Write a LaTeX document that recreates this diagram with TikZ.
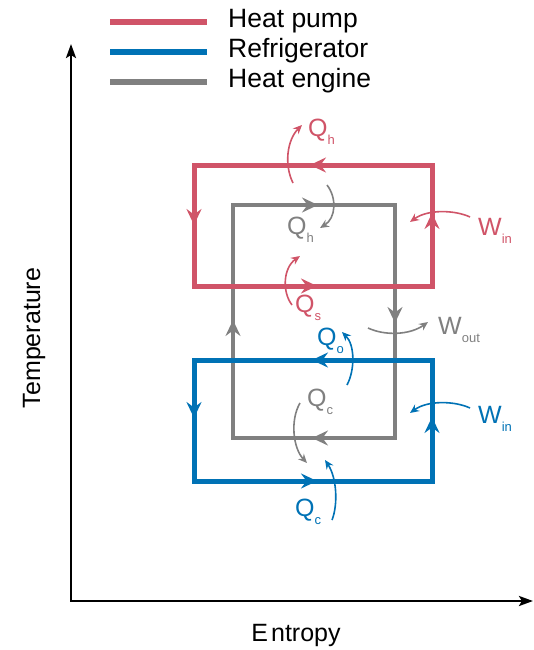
\documentclass[tikz,border=0pt]{standalone}
\usepackage{fontspec}
\setmainfont{Liberation Sans}
\usetikzlibrary{arrows.meta}
\definecolor{hpcol}{RGB}{208,84,104}
\definecolor{rfcol}{RGB}{0,114,181}
\definecolor{hecol}{RGB}{128,128,128}
\newcommand{\lsub}[1]{\raisebox{-8pt}{\fontsize{13}{13}\selectfont #1}}
\tikzset{
  axisline/.style={line width=2.6pt, black},
  boxline/.style={line width=#1, line join=miter},
  edgetip/.style={-{Stealth[length=16pt 0,width=15pt 0,inset=5.5pt 0]}},
  flow/.style={line width=1.6pt, -{Stealth[length=9pt,width=8pt,inset=3pt]}},
  lbl/.style={inner sep=0pt, anchor=base west, font=\fontsize{25}{25}\selectfont},
  legtext/.style={inner sep=0pt, anchor=base west, font=\fontsize{26.5}{26.5}\selectfont},
}
\begin{document}
\begin{tikzpicture}[x=1pt,y=-1pt]
\useasboundingbox (0,0) rectangle (534,650);
% axes
\coordinate (O) at (71,601);
\coordinate (ytip) at (71,44);
\coordinate (xtip) at (533,601);
\draw[axisline, {Stealth[length=14pt,width=10pt,inset=3pt]}-{Stealth[length=14pt,width=10pt,inset=3pt]}, line join=miter] (ytip) -- (O) -- (xtip);
\node[rotate=90, inner sep=0pt, font=\fontsize{25}{25}\selectfont] (tlab) at (34,338) {Temperature};
\node[inner sep=0pt, anchor=base, font=\fontsize{25}{25}\selectfont] (slab) at (296,641) {E\kern3pt ntropy};
% legend
\coordinate (l1a) at (110,22); \coordinate (l1b) at (207,22);
\coordinate (l2a) at (110,52); \coordinate (l2b) at (207,52);
\coordinate (l3a) at (110,82); \coordinate (l3b) at (207,82);
\draw[hpcol, line width=5.5pt] (l1a) -- (l1b);
\draw[rfcol, line width=5.5pt] (l2a) -- (l2b);
\draw[hecol, line width=5.5pt] (l3a) -- (l3b);
\node[legtext] (t1) at (228,28) {Heat pump};
\node[legtext] (t2) at (228,58) {Refrigerator};
\node[legtext] (t3) at (228,88) {Heat engine};
% heat engine (gray)
\draw[hecol, boxline=3.5pt] (233,205) rectangle (395,438);
\draw[hecol, boxline=3.5pt, edgetip] (300,205) -- (318,205);
\draw[hecol, boxline=3.5pt, edgetip] (395,305) -- (395,323);
\draw[hecol, boxline=3.5pt, edgetip] (233,338) -- (233,320);
\draw[hecol, boxline=3.5pt, edgetip] (330,438) -- (312,438);
% heat pump (red)
\draw[hpcol, boxline=5pt] (194,165) rectangle (432,286);
\draw[hpcol, boxline=5pt, edgetip] (328,165) -- (310,165);
\draw[hpcol, boxline=5pt, edgetip] (194,207) -- (194,225);
\draw[hpcol, boxline=5pt, edgetip] (299,286) -- (317,286);
\draw[hpcol, boxline=5pt, edgetip] (432,231) -- (432,213);
% refrigerator (blue)
\draw[rfcol, boxline=5pt] (194,360) rectangle (432,481);
\draw[rfcol, boxline=5pt, edgetip] (330,360) -- (312,360);
\draw[rfcol, boxline=5pt, edgetip] (194,400) -- (194,418);
\draw[rfcol, boxline=5pt, edgetip] (299,481) -- (317,481);
\draw[rfcol, boxline=5pt, edgetip] (432,435) -- (432,417);
% labels
\node[lbl, text=hpcol] (qh1) at (308,136) {Q\lsub{h}};
\node[lbl, text=hecol] (qh2) at (287,234) {Q\lsub{h}};
\node[lbl, text=hpcol] (qs) at (295,312) {Q\lsub{s}};
\node[lbl, text=hecol] (wout) at (438,334) {W\lsub{out}};
\node[lbl, text=hpcol] (win1) at (478,235) {W\lsub{in}};
\node[lbl, text=rfcol] (win2) at (478,423) {W\lsub{in}};
\node[lbl, text=rfcol] (qo) at (317,345) {Q\lsub{o}};
\node[lbl, text=hecol] (qc1) at (307,406) {Q\lsub{c}};
\node[lbl, text=rfcol] (qc2) at (295,516) {Q\lsub{c}};
% flow arrows
\coordinate (a1s) at (293,183); \coordinate (a1e) at (302,125);
\draw[flow, hpcol] (a1s) .. controls (284,165) and (287,140) .. (a1e);
\coordinate (a2s) at (327,185); \coordinate (a2e) at (320,228);
\draw[flow, hecol] (a2s) .. controls (337,198) and (336,218) .. (a2e);
\coordinate (a3s) at (292,305); \coordinate (a3e) at (300,256);
\draw[flow, hpcol] (a3s) .. controls (282,292) and (283,268) .. (a3e);
\coordinate (a4s) at (368,328); \coordinate (a4e) at (428,322);
\draw[flow, hecol] (a4s) .. controls (385,336) and (410,335) .. (a4e);
\coordinate (a5s) at (470,217); \coordinate (a5e) at (410,222);
\draw[flow, hpcol] (a5s) .. controls (455,210) and (428,209) .. (a5e);
\coordinate (a6s) at (470,408); \coordinate (a6e) at (410,413);
\draw[flow, rfcol] (a6s) .. controls (455,401) and (428,400) .. (a6e);
\coordinate (a7s) at (347,385); \coordinate (a7e) at (342,332);
\draw[flow, rfcol] (a7s) .. controls (355,370) and (355,345) .. (a7e);
\coordinate (a8s) at (300,403); \coordinate (a8e) at (307,463);
\draw[flow, hecol] (a8s) .. controls (290,420) and (293,448) .. (a8e);
\coordinate (a9s) at (332,520); \coordinate (a9e) at (325,460);
\draw[flow, rfcol] (a9s) .. controls (338,505) and (337,478) .. (a9e);
\end{tikzpicture}
\end{document}
